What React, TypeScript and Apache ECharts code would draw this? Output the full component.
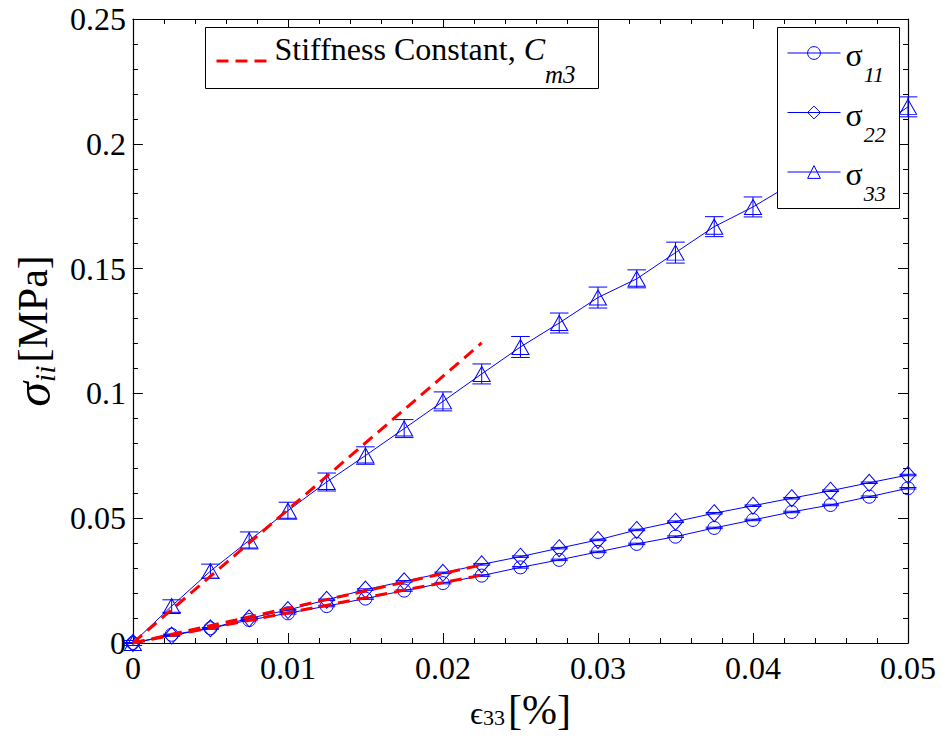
import React, { useEffect, useRef } from 'react';
import * as echarts from 'echarts';

// ---- data ----
const strain = [0, 0.0025, 0.005, 0.0075, 0.01, 0.0125, 0.015, 0.0175, 0.02, 0.0225, 0.025, 0.0275, 0.03, 0.0325, 0.035, 0.0375, 0.04, 0.0425, 0.045, 0.0475, 0.05];
const sigma11 = [0, 0.0033, 0.0059, 0.0092, 0.0119, 0.0148, 0.0178, 0.021, 0.024, 0.027, 0.0303, 0.0333, 0.0365, 0.0397, 0.0426, 0.0461, 0.0493, 0.0525, 0.0553, 0.0586, 0.062];
const sigma22 = [0, 0.003, 0.0059, 0.0099, 0.0132, 0.0173, 0.0214, 0.0247, 0.0281, 0.0315, 0.0346, 0.038, 0.0413, 0.0453, 0.0486, 0.052, 0.055, 0.058, 0.061, 0.0642, 0.0673];
const sigma33 = [0, 0.0148, 0.0288, 0.0411, 0.053, 0.0645, 0.0751, 0.0859, 0.0968, 0.1078, 0.1186, 0.1282, 0.1384, 0.1459, 0.1564, 0.1668, 0.1747, 0.184, 0.194, 0.204, 0.2148];
const err11 = [0.0002, 0.0003, 0.0003, 0.0003, 0.0003, 0.0003, 0.0003, 0.0003, 0.0003, 0.0003, 0.0003, 0.0003, 0.0003, 0.0003, 0.0003, 0.0003, 0.0003, 0.0003, 0.0003, 0.0003, 0.0003];
const err22 = [0.0002, 0.0003, 0.0003, 0.0003, 0.0003, 0.0003, 0.0003, 0.0003, 0.0003, 0.0003, 0.0003, 0.0003, 0.0003, 0.0003, 0.0003, 0.0003, 0.0003, 0.0003, 0.0003, 0.0003, 0.0003];
const err33 = [0.001, 0.0025, 0.0028, 0.0034, 0.0034, 0.0036, 0.0035, 0.0036, 0.0038, 0.004, 0.0042, 0.004, 0.0042, 0.0036, 0.0042, 0.004, 0.004, 0.004, 0.004, 0.004, 0.004];

// stiffness-constant fits (two end points each)
const fitStrain = [0, 0.0225];
const fit33 = [0, 0.1202];
const fit22 = [0, 0.0313];
const fit11 = [0, 0.0272];

const xTickLabels = ['0', '0.01', '0.02', '0.03', '0.04', '0.05'];
const yTickLabels = ['0', '0.05', '0.1', '0.15', '0.2', '0.25'];

const seriesNames = ['σ11', 'σ22', 'σ33'];
const fitName = 'Stiffness Constant';

const BLUE = '#0000ff';
const RED = '#ff0000';
const FONT = 'Liberation Serif';

function errorBars(name: string, ys: number[], errs: number[], capHalf: number) {
  return {
    type: 'custom',
    name: name + ' error',
    silent: true,
    z: 2,
    encode: { x: 0, y: 1 },
    data: strain.map((x, i) => [x, ys[i], errs[i]]),
    renderItem: (_params: any, api: any) => {
      const x = api.value(0);
      const y = api.value(1);
      const e = api.value(2);
      const top = api.coord([x, y + e]);
      const bot = api.coord([x, y - e]);
      const l = api.coord([x - capHalf, y])[0];
      const r = api.coord([x + capHalf, y])[0];
      const style = { stroke: BLUE, lineWidth: 1, fill: 'none' };
      return {
        type: 'group',
        children: [
          { type: 'line', shape: { x1: top[0], y1: top[1], x2: bot[0], y2: bot[1] }, style },
          { type: 'line', shape: { x1: l, y1: top[1], x2: r, y2: top[1] }, style },
          { type: 'line', shape: { x1: l, y1: bot[1], x2: r, y2: bot[1] }, style },
        ],
      };
    },
  };
}

function dataLine(name: string, ys: number[], symbol: string, size: any) {
  return {
    type: 'line',
    name,
    silent: true,
    z: 2,
    data: strain.map((x, i) => [x, ys[i]]),
    symbol,
    symbolSize: size,
    showSymbol: true,
    showAllSymbol: true,
    lineStyle: { color: BLUE, width: 1 },
    itemStyle: { color: 'transparent', borderColor: BLUE, borderWidth: 1 },
  };
}

function fitLine(ys: number[]) {
  return {
    type: 'line',
    name: fitName,
    silent: true,
    z: 3,
    data: fitStrain.map((x, i) => [x, ys[i]]),
    symbol: 'none',
    lineStyle: { color: RED, width: 3, type: [12, 7] },
    itemStyle: { color: 'transparent' },
  };
}

const axisCommon = {
  type: 'value',
  axisLine: { show: true, onZero: false, lineStyle: { color: '#000', width: 1.2 } },
  axisTick: { show: true, inside: true, length: 10, lineStyle: { color: '#000', width: 1 } },
  minorTick: { show: true, splitNumber: 5, length: 5, lineStyle: { color: '#000', width: 1 } },
  splitLine: { show: false },
  minorSplitLine: { show: false },
};

export default function App() {
  const ref = useRef<HTMLDivElement>(null);
  useEffect(() => {
    if (!ref.current) return;
    const chart = echarts.init(ref.current, null, { renderer: 'svg' });
    const option: any = {
      animation: false,
      backgroundColor: '#fff',
      textStyle: { fontFamily: FONT },
      grid: { left: 130, right: 37, top: 19, bottom: 93, containLabel: false },
      graphic: [
        {
          type: 'rect',
          z: 8,
          silent: true,
          shape: { x: 205.5, y: 27.5, width: 393, height: 61 },
          style: { fill: '#fff', stroke: '#000', lineWidth: 1 },
        },
        {
          type: 'rect',
          z: 8,
          silent: true,
          shape: { x: 777.5, y: 27.5, width: 122, height: 181 },
          style: { fill: '#fff', stroke: '#000', lineWidth: 1 },
        },
      ],
      xAxis: [
        {
          ...axisCommon,
          min: 0,
          max: 0.05,
          interval: 0.01,
          position: 'bottom',
          axisLabel: {
            color: '#000',
            fontFamily: FONT,
            fontSize: 32,
            margin: 9,
            formatter: (v: number) => xTickLabels[Math.round(v / 0.01)] ?? '',
          },
          name: '{e|ϵ}{n|33}{b|[%]}',
          nameLocation: 'middle',
          nameGap: 44,
          nameTextStyle: {
            color: '#000',
            fontFamily: FONT,
            rich: {
              e: { fontSize: 32, fontFamily: FONT, color: '#000', padding: [7, 0, 0, 0] },
              n: { fontSize: 22, fontFamily: FONT, color: '#000', padding: [16, 3, 0, 0] },
              b: { fontSize: 42, fontFamily: FONT, color: '#000' },
            },
          },
        },
        {
          ...axisCommon,
          min: 0,
          max: 0.05,
          interval: 0.01,
          position: 'top',
          axisLabel: { show: false },
        },
      ],
      yAxis: [
        {
          ...axisCommon,
          min: 0,
          max: 0.25,
          interval: 0.05,
          position: 'left',
          axisLabel: {
            color: '#000',
            fontFamily: FONT,
            fontSize: 32,
            margin: 7,
            formatter: (v: number) => yTickLabels[Math.round(v / 0.05)] ?? '',
          },
          name: '{s|σ}{i|ii}{b|[MPa]}',
          nameLocation: 'middle',
          nameRotate: 90,
          nameGap: 66,
          nameTextStyle: {
            color: '#000',
            fontFamily: FONT,
            rich: {
              s: { fontSize: 50, fontStyle: 'italic', fontFamily: FONT, color: '#000' },
              i: { fontSize: 30, fontStyle: 'italic', fontFamily: FONT, color: '#000', padding: [22, 3, 0, 0] },
              b: { fontSize: 42, fontFamily: FONT, color: '#000' },
            },
          },
        },
        {
          ...axisCommon,
          min: 0,
          max: 0.25,
          interval: 0.05,
          position: 'right',
          axisLabel: { show: false },
        },
      ],
      legend: [
        {
          z: 10,
          selectedMode: false,
          orient: 'horizontal',
          left: 215,
          top: 33,
          padding: 0,
          itemWidth: 53,
          itemHeight: 4,
          data: [
            {
              name: fitName,
              itemStyle: { color: 'transparent', borderColor: 'transparent', borderWidth: 0 },
              lineStyle: { color: RED, width: 3, type: [12, 7] },
            },
          ],
          formatter: () => '{a|Stiffness Constant, }{c|C}{m|m3}',
          textStyle: {
            fontFamily: FONT,
            rich: {
              a: { fontSize: 32, fontFamily: FONT, color: '#000', padding: [0, 0, 24, 0] },
              c: { fontSize: 32, fontStyle: 'italic', fontFamily: FONT, color: '#000', padding: [0, 0, 24, 0] },
              m: { fontSize: 25, fontStyle: 'italic', fontFamily: FONT, color: '#000', padding: [27, 0, 0, 0] },
            },
          },
        },
        {
          z: 10,
          selectedMode: false,
          orient: 'vertical',
          left: 787,
          top: 39,
          padding: 0,
          itemGap: 13,
          itemWidth: 53,
          itemHeight: 16,
          data: seriesNames.map((n) => ({
            name: n,
            itemStyle: { color: 'transparent', borderColor: BLUE, borderWidth: 1 },
            lineStyle: { color: BLUE, width: 1 },
          })),
          formatter: (name: string) => '{g|σ}{s|' + name.slice(1) + '}',
          textStyle: {
            fontFamily: FONT,
            rich: {
              g: { fontSize: 32, fontFamily: FONT, color: '#000', padding: [4, 0, 0, 0] },
              s: { fontSize: 22, fontStyle: 'italic', fontFamily: FONT, color: '#000', padding: [43, 0, 0, 1] },
            },
          },
        },
      ],
      series: [
        errorBars('σ11', sigma11, err11, 0.00055),
        errorBars('σ22', sigma22, err22, 0.00055),
        errorBars('σ33', sigma33, err33, 0.0006),
        dataLine('σ11', sigma11, 'circle', 13),
        dataLine('σ22', sigma22, 'diamond', [15, 17]),
        dataLine('σ33', sigma33, 'triangle', [17, 15]),
        fitLine(fit33),
        fitLine(fit22),
        fitLine(fit11),
      ],
    };
    chart.setOption(option);
    return () => chart.dispose();
  }, []);
  return (
    <div
      ref={ref}
      style={{ position: 'absolute', left: 0, top: 0, width: 945, height: 736, background: '#fff' }}
    />
  );
}
